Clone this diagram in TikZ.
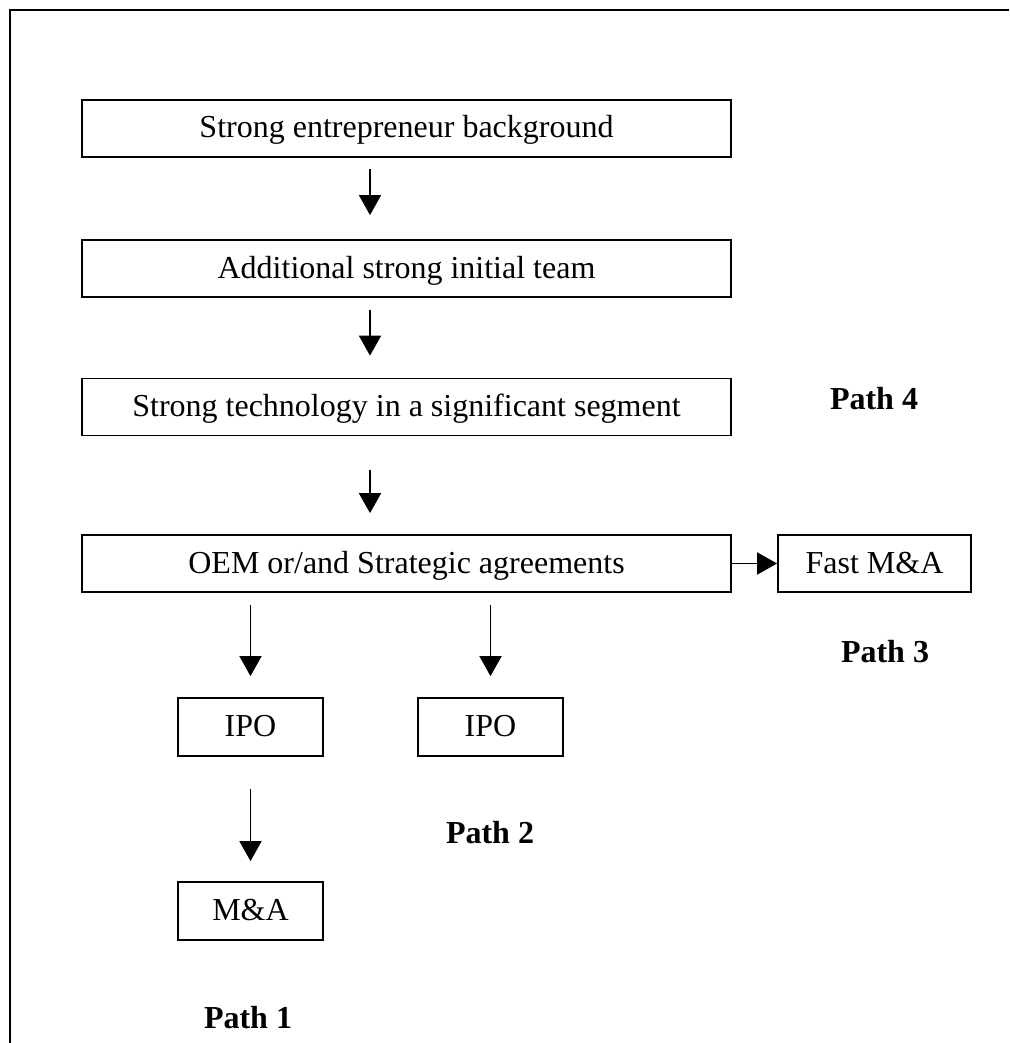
\documentclass[tikz,border=0pt]{standalone}
\usepackage{fontspec}
\setmainfont{Liberation Serif}
\usetikzlibrary{arrows.meta}
\begin{document}
\begin{tikzpicture}[x=1pt,y=-1pt,
  box/.style={draw,line width=1.8pt,inner sep=0pt,minimum height=57pt,
    text height=25pt,text depth=6pt,font=\fontsize{32}{38}\selectfont},
  bigbox/.style={box,minimum width=649pt},
  smallbox/.style={box,minimum width=145pt},
  arr/.style={line width=1.8pt,-{Triangle[length=20pt,width=22pt]}},
  pathlabel/.style={anchor=base,inner sep=0pt,font=\fontsize{32}{38}\selectfont\bfseries}]
\useasboundingbox (0,0) rectangle (1009,1043);
\draw[line width=2.5pt] (10,1043) -- (10,10) -- (1009,10);

\node[bigbox] (b1) at (406.5,128.5) {Strong entrepreneur background};
\node[bigbox] (b2) at (406.5,268.5) {Additional strong initial team};
\node[bigbox] (b3) at (406.5,407) {Strong technology in a significant segment};
\node[bigbox] (b4) at (406.5,563.5) {OEM or/and Strategic agreements};
\node[box,minimum width=193pt] (fast) at (874.5,563.5) {Fast M\&A};
\node[smallbox,minimum height=58pt] (ipo1) at (250.5,727) {IPO};
\node[smallbox,minimum height=58pt] (ipo2) at (490.5,727) {IPO};
\node[smallbox,minimum height=58pt] (ma) at (250.5,911) {M\&A};

\node[pathlabel] (p4) at (874,409) {Path 4};
\node[pathlabel] (p3) at (885,662) {Path 3};
\node[pathlabel] (p2) at (490,843) {Path 2};
\node[pathlabel] (p1) at (248,1028) {Path 1};

\draw[arr,shorten <=11pt,shorten >=24pt] ([xshift=-36.5pt]b1.south) -- ([xshift=-36.5pt]b2.north);
\draw[arr,shorten <=12pt,shorten >=22pt] ([xshift=-36.5pt]b2.south) -- ([xshift=-36.5pt]b3.north);
\draw[arr,shorten <=34pt,shorten >=21pt] ([xshift=-36.5pt]b3.south) -- ([xshift=-36.5pt]b4.north);
\draw[arr] (b4.east) -- (fast.west);
\draw[arr,shorten <=12pt,shorten >=21pt] (b4.south -| ipo1.north) -- (ipo1.north);
\draw[arr,shorten <=12pt,shorten >=21pt] (b4.south -| ipo2.north) -- (ipo2.north);
\draw[arr,shorten <=32pt,shorten >=20pt] (ipo1.south) -- (ma.north);
\end{tikzpicture}
\end{document}
